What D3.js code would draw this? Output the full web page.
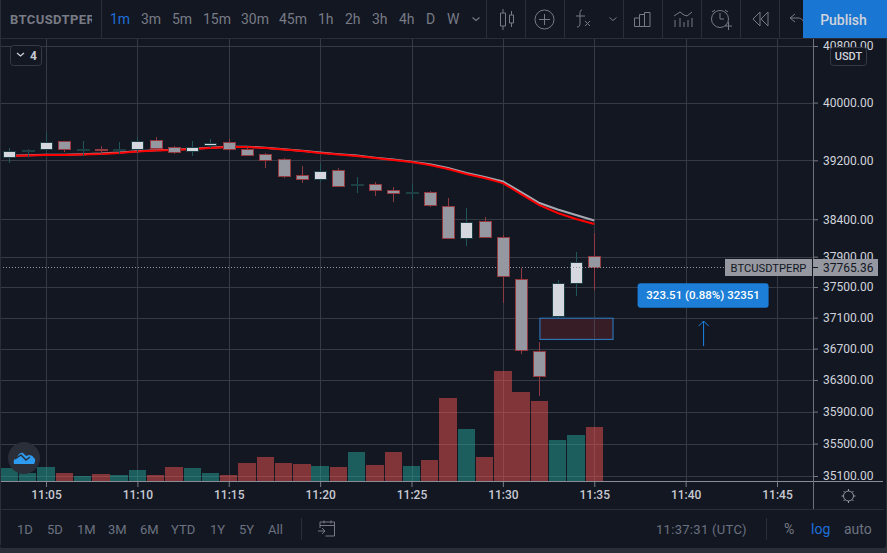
<!DOCTYPE html>
<html>
<head>
<meta charset="utf-8">
<script src="https://cdn.jsdelivr.net/npm/d3@7"></script>
<style>
  html, body { margin: 0; padding: 0; background: #2a2e39; overflow: hidden; }
  svg { display: block; font-family: Roboto, sans-serif; }
</style>
</head>
<body>
<div id="chart"></div>
<script>
var svgWidth = 887;
var svgHeight = 553;

// chart data
var times = ["11:03","11:04","11:05","11:06","11:07","11:08","11:09","11:10","11:11","11:12","11:13",
  "11:14","11:15","11:16","11:17","11:18","11:19","11:20","11:21","11:22","11:23","11:24","11:25",
  "11:26","11:27","11:28","11:29","11:30","11:31","11:32","11:33","11:34","11:35"];
var opens = [39254,39341,39355,39459,39352,39362,39348,39355,39480,39383,39327,39411,39452,39355,39286,
  39218,38998,38944,39067,38862,38875,38794,38760,38762,38582,38158,38381,38166,37609,36673,37130,37561,37913];
var highs = [39369,39355,39590,39466,39466,39396,39452,39521,39521,39396,39466,39493,39493,39396,39300,
  39231,39122,39149,39094,38971,38903,38835,38875,38780,38686,38551,38430,38188,37750,36785,37592,37962,38215];
var lows = [39163,39245,39327,39313,39259,39272,39286,39313,39327,39286,39259,39369,39327,39259,39094,
  38957,38889,38903,38848,38753,38713,38632,38672,38565,38135,38042,38148,37291,36631,36096,37095,37382,37460];
var closes = [39331,39348,39456,39348,39362,39355,39355,39466,39369,39320,39383,39438,39355,39276,39208,
  38989,38948,39057,38852,38875,38787,38760,38767,38587,38158,38367,38171,37654,36691,36358,37556,37833,37765];
var volumes = [130,80,140,80,50,70,60,110,60,140,130,80,60,180,240,180,170,150,140,290,160,290,150,210,
  830,520,240,1100,890,800,410,460,540];
var redLine = [39259,39265,39272,39272,39279,39286,39300,39320,39334,39341,39355,39369,39383,39383,39369,
  39348,39327,39300,39279,39259,39231,39204,39176,39135,39080,39012,38957,38889,38740,38591,38484,38403,38336];
var grayLine = [39262,39270,39276,39278,39284,39292,39306,39326,39340,39346,39360,39374,39388,39388,39374,
  39353,39332,39306,39285,39265,39237,39210,39182,39146,39094,39026,38971,38910,38767,38618,38531,38457,38383];

var priceTicks = [40800,40000,39200,38400,37900,37500,37100,36700,36300,35900,35500,35100];
var timeTicks = ["11:05","11:10","11:15","11:20","11:25","11:30","11:35","11:40","11:45"];
var intervals = ["1m","3m","5m","15m","30m","45m","1h","2h","3h","4h","D","W"];
var intervalX = [110,141,172,203,241,279,318,345,372,399,426,447];
var ranges = ["1D","5D","1M","3M","6M","YTD","1Y","5Y","All"];
var rangeX = [17,47,77,108,140,171,210,239,268];

var lastPrice = 37765.36;
var boxStart = "11:32", boxEnd = "11:36", boxTop = 37093, boxBottom = 36819;
var arrowTime = "11:40:59", arrowFrom = 36733, arrowTo = 37056;
var labelTop = 37550, labelBottom = 37230;

var parseTime = d3.utcParse("%H:%M");
var parseLong = d3.utcParse("%H:%M:%S");

var bg = "#131722", grid = "#363a45", axisCol = "#787b86", muted = "#6b7280";
var upBorder = "#1d3f43", downBorder = "#94393f", upFill = "#d6d8e0", downFill = "#9598a1";

var svg = d3.select("#chart").append("svg")
    .attr("width", svgWidth)
    .attr("height", svgHeight);

svg.append("rect").attr("width", svgWidth).attr("height", svgHeight).attr("fill", "#2a2e39");
svg.append("rect").attr("width", svgWidth - 1).attr("height", 548).attr("rx", 3).attr("fill", bg);

var xScale = d3.scaleUtc()
    .domain([parseTime("11:05"), parseTime("11:45")])
    .range([46, 777]);

var yScale = d3.scaleLog()
    .domain([35100, 40800])
    .range([476, 46]);

var volScale = d3.scaleLinear()
    .domain([0, 1100])
    .range([481, 371]);

// grid
var gridGroup = svg.append("g").attr("shape-rendering", "crispEdges").attr("stroke", grid);
gridGroup.selectAll(".h").data(priceTicks).enter().append("line")
    .attr("x1", 0).attr("x2", 813)
    .attr("y1", d => Math.round(yScale(d))).attr("y2", d => Math.round(yScale(d)));
gridGroup.selectAll(".v").data(timeTicks).enter().append("line")
    .attr("x1", d => Math.round(xScale(parseTime(d)))).attr("x2", d => Math.round(xScale(parseTime(d))))
    .attr("y1", 38).attr("y2", 481);

// volume
svg.append("g").selectAll("rect").data(volumes).enter().append("rect")
    .attr("x", (d, i) => xScale(parseTime(times[i])) - 8.7)
    .attr("width", 17.4)
    .attr("y", d => volScale(d))
    .attr("height", d => volScale(0) - volScale(d))
    .attr("fill", (d, i) => closes[i] >= opens[i] ? "rgba(38,166,154,.5)" : "rgba(239,83,80,.5)")
    .attr("shape-rendering", "crispEdges");

// moving averages
var lineGen = d3.line()
    .x((d, i) => xScale(parseTime(times[i])))
    .y(d => yScale(d));
svg.append("path").attr("d", lineGen(grayLine)).attr("fill", "none").attr("stroke", "#a6a9b2").attr("stroke-width", 2);
svg.append("path").attr("d", lineGen(redLine)).attr("fill", "none").attr("stroke", "#ff0000").attr("stroke-width", 2);

// candles
var candles = svg.append("g").selectAll("g").data(times).enter().append("g");
candles.append("line")
    .attr("x1", d => Math.round(xScale(parseTime(d))) + 0.5)
    .attr("x2", d => Math.round(xScale(parseTime(d))) + 0.5)
    .attr("y1", (d, i) => yScale(highs[i]))
    .attr("y2", (d, i) => yScale(lows[i]))
    .attr("stroke", (d, i) => closes[i] >= opens[i] ? "#20565a" : "#8e3a40");
candles.append("rect")
    .attr("x", d => Math.round(xScale(parseTime(d))) - 5.5)
    .attr("width", 12)
    .attr("y", (d, i) => Math.round(yScale(Math.max(opens[i], closes[i]))) + 0.5)
    .attr("height", (d, i) => Math.max(1, Math.round(yScale(Math.min(opens[i], closes[i])) - yScale(Math.max(opens[i], closes[i])))))
    .attr("fill", (d, i) => closes[i] >= opens[i] ? upFill : downFill)
    .attr("stroke", (d, i) => closes[i] >= opens[i] ? upBorder : downBorder)
    .attr("stroke-width", 1);

// rectangle drawing
svg.append("rect")
    .attr("x", xScale(parseTime(boxStart)) + 0.5)
    .attr("y", yScale(boxTop))
    .attr("width", xScale(parseTime(boxEnd)) - xScale(parseTime(boxStart)))
    .attr("height", yScale(boxBottom) - yScale(boxTop))
    .attr("fill", "#371e26")
    .attr("stroke", "#2f80cc");
// vertical gridline shows through the rectangle
svg.append("line")
    .attr("x1", Math.round(xScale(parseTime("11:35")))).attr("x2", Math.round(xScale(parseTime("11:35"))))
    .attr("y1", yScale(boxTop)).attr("y2", yScale(boxBottom))
    .attr("stroke", "#4a3e4c").attr("shape-rendering", "crispEdges");

// measure label and arrow
var arrowX = xScale(parseLong(arrowTime));
svg.append("rect")
    .attr("x", arrowX - 66).attr("width", 131)
    .attr("y", yScale(labelTop)).attr("height", yScale(labelBottom) - yScale(labelTop))
    .attr("rx", 3).attr("fill", "#1c7ed6");
svg.append("text")
    .attr("x", arrowX - 0.5).attr("y", (yScale(labelTop) + yScale(labelBottom)) / 2 + 4)
    .attr("text-anchor", "middle").attr("fill", "#ffffff")
    .attr("font-size", 11.5).attr("font-weight", 500)
    .text("323.51 (0.88%) 32351");
svg.append("line")
    .attr("x1", arrowX).attr("x2", arrowX)
    .attr("y1", yScale(arrowFrom)).attr("y2", yScale(arrowTo))
    .attr("stroke", "#1c85e8");
svg.append("path")
    .attr("d", `M${arrowX - 5},${yScale(arrowTo) + 5}L${arrowX},${yScale(arrowTo)}L${arrowX + 5},${yScale(arrowTo) + 5}`)
    .attr("fill", "none").attr("stroke", "#1c85e8");

// last price line
svg.append("line")
    .attr("x1", 0).attr("x2", 813)
    .attr("y1", Math.round(yScale(lastPrice)) + 0.5).attr("y2", Math.round(yScale(lastPrice)) + 0.5)
    .attr("stroke", "#9598a1").attr("stroke-dasharray", "1 2");

// axes
var rightAxis = d3.axisRight(yScale)
    .tickValues(priceTicks)
    .tickFormat(d3.format(".2f"))
    .tickSize(5)
    .tickPadding(5);
var yAxis = svg.append("g")
    .attr("transform", "translate(813,0)")
    .call(rightAxis);
yAxis.select(".domain").remove();
yAxis.selectAll("line").attr("stroke", axisCol);
yAxis.selectAll("text").attr("fill", "#d1d4dc").attr("font-size", 12).attr("font-family", "Roboto, sans-serif");

var bottomAxis = d3.axisBottom(xScale)
    .tickValues(timeTicks.map(parseTime))
    .tickFormat(d3.utcFormat("%H:%M"))
    .tickSize(6)
    .tickPadding(3);
var xAxis = svg.append("g")
    .attr("transform", "translate(0,481)")
    .call(bottomAxis);
xAxis.select(".domain").remove();
xAxis.selectAll("line").attr("stroke", axisCol);
xAxis.selectAll("text").attr("fill", "#c8cad2").attr("font-size", 12).attr("font-weight", 500)
    .attr("font-family", "Roboto, sans-serif");

var frame = svg.append("g").attr("shape-rendering", "crispEdges");
frame.append("line").attr("x1", 0).attr("x2", 883).attr("y1", 481).attr("y2", 481).attr("stroke", "#8a8d97");
frame.append("line").attr("x1", 813).attr("x2", 813).attr("y1", 38).attr("y2", 509).attr("stroke", "#6f727c");
frame.append("line").attr("x1", 0).attr("x2", 887).attr("y1", 38).attr("y2", 38).attr("stroke", "#2a2e39");
frame.append("line").attr("x1", 0).attr("x2", 884).attr("y1", 509).attr("y2", 509).attr("stroke", "#2a2e39");
frame.append("line").attr("x1", 0.5).attr("x2", 0.5).attr("y1", 0).attr("y2", 545).attr("stroke", "#2a2e39");

// last price tags
var tagY = Math.round(yScale(lastPrice));
svg.append("rect").attr("x", 725).attr("y", tagY - 8).attr("width", 87).attr("height", 17).attr("fill", "#9598a1");
svg.append("text").attr("x", 768.5).attr("y", tagY + 4.5).attr("text-anchor", "middle")
    .attr("font-size", 11.2).attr("fill", bg).text("BTCUSDTPERP");
svg.append("rect").attr("x", 813).attr("y", tagY - 8).attr("width", 65).attr("height", 17).attr("fill", "#9598a1");
svg.append("line").attr("x1", 813).attr("x2", 818).attr("y1", tagY + 0.5).attr("y2", tagY + 0.5).attr("stroke", bg);
svg.append("text").attr("x", 823).attr("y", tagY + 4.5)
    .attr("font-size", 12).attr("fill", bg).text(d3.format(".2f")(lastPrice));

// USDT badge
svg.append("rect").attr("x", 830.5).attr("y", 47.5).attr("width", 36).attr("height", 18).attr("rx", 3)
    .attr("fill", bg).attr("stroke", "#363a45");
svg.append("text").attr("x", 848.5).attr("y", 60).attr("text-anchor", "middle")
    .attr("font-size", 11).attr("font-weight", 500).attr("fill", "#d1d4dc").text("USDT");

// collapse badge
svg.append("rect").attr("x", 10.5).attr("y", 45.5).attr("width", 31).attr("height", 20).attr("rx", 3)
    .attr("fill", bg).attr("stroke", "#363a45");
svg.append("path").attr("d", "M17,53l3.5,3l3.5,-3").attr("fill", "none").attr("stroke", "#d1d4dc").attr("stroke-width", 1.2);
svg.append("text").attr("x", 30).attr("y", 60).attr("font-size", 12).attr("font-weight", 700)
    .attr("fill", "#c8cad2").text("4");

// logo
svg.append("circle").attr("cx", 24).attr("cy", 458).attr("r", 16).attr("fill", "#2a2e39");
svg.append("path")
    .attr("d", "M14,464c-1,-4 1,-6 3,-6c1,-3 3,-6 6,-5l3,3l3,-1c2,0 4,1 5,3c1,0 2,3 0,6z")
    .attr("fill", "#2d9cf0");
svg.append("path").attr("d", "M15,459l6,-4l5,5l4,-3").attr("fill", "none").attr("stroke", "#2a2e39").attr("stroke-width", 1.5);

// top toolbar
svg.append("clipPath").attr("id", "symClip").append("rect").attr("x", 0).attr("y", 0).attr("width", 92).attr("height", 38);
svg.append("text").attr("x", 10).attr("y", 24).attr("font-size", 13).attr("font-weight", 700)
    .attr("letter-spacing", 0.4).attr("fill", "#787b86").attr("clip-path", "url(#symClip)").text("BTCUSDTPERP");
svg.append("g").selectAll("text").data(intervals).enter().append("text")
    .attr("x", (d, i) => intervalX[i])
    .attr("y", 24)
    .attr("font-size", 14)
    .attr("fill", (d, i) => i === 0 ? "#1e6fd9" : "#787b86")
    .text(d => d);

var sepX = [101, 486, 525, 564, 623, 662, 701, 740, 779];
svg.append("g").attr("shape-rendering", "crispEdges").selectAll("line").data(sepX).enter().append("line")
    .attr("x1", d => d + 0.5).attr("x2", d => d + 0.5).attr("y1", 0).attr("y2", 38).attr("stroke", "#2a2e39");

var icons = svg.append("g").attr("fill", "none").attr("stroke", "#787b86").attr("stroke-width", 1);
icons.append("path").attr("d", "M472.5,17.5l3.5,3l3.5,-3").attr("stroke-width", 1.1);
icons.append("path").attr("d", "M500.5,13h5v13h-5zM503,9v4M503,26v4M509.5,15h4v8h-4zM511.5,11v4M511.5,23v4");
icons.append("circle").attr("cx", 544.5).attr("cy", 19.5).attr("r", 9.5);
icons.append("path").attr("d", "M539,19.5h11M544.5,14v11");
icons.append("path").attr("d", "M582,10c-2,0 -2,2 -2,4v9c0,3 -1,4 -3,4M576,16h9M585,21l5,5M590,21l-5,5");
icons.append("path").attr("d", "M609.5,17.5l3.5,3l3.5,-3");
icons.append("path").attr("d", "M634.5,18h5v8.5h-5zM639.5,14.5h5v12h-5zM644.5,12.5h5.5v14h-5.5z");
icons.append("path").attr("d", "M674,16l6,-4l4,3l3,1l5,-4M675,20v7M680,18v9M684,22v5M688,20v7M692,18v9");
icons.append("circle").attr("cx", 720).attr("cy", 19).attr("r", 8.5);
icons.append("path").attr("d", "M720,13v6h4M712,12l3,-2M725,10l3,2M725,26h7M728.5,22v8");
icons.append("path").attr("d", "M760,12l-7,7l7,7zM768,12l-7,7l7,7z");
icons.append("path").attr("d", "M795,14l-5,4l5,4M790,18h8c4,0 6,3 6,7");

// publish
svg.append("rect").attr("x", 803).attr("y", 0).attr("width", 84).attr("height", 38).attr("fill", "#1976d2");
svg.append("text").attr("x", 843.5).attr("y", 24.5).attr("text-anchor", "middle")
    .attr("font-size", 14).attr("font-weight", 500).attr("fill", "#d1d4dc").text("Publish");

// bottom toolbar
svg.append("g").selectAll("text").data(ranges).enter().append("text")
    .attr("x", (d, i) => rangeX[i])
    .attr("y", 534)
    .attr("font-size", 13)
    .attr("fill", muted)
    .text(d => d);
svg.append("line").attr("x1", 301.5).attr("x2", 301.5).attr("y1", 518).attr("y2", 540).attr("stroke", "#2a2e39");
svg.append("line").attr("x1", 766.5).attr("x2", 766.5).attr("y1", 518).attr("y2", 540).attr("stroke", "#2a2e39");
svg.append("path").attr("d", "M320,528v-6h14.5v14h-9M320,525.5h14.5M324,520.5v3M331,520.5v3M318,531h7M322,528l3,3l-3,3")
    .attr("fill", "none").attr("stroke", "#787b86");
svg.append("text").attr("x", 656).attr("y", 534).attr("font-size", 13).attr("letter-spacing", 0.3)
    .attr("fill", muted).text("11:37:31 (UTC)");
svg.append("text").attr("x", 784).attr("y", 534).attr("font-size", 14).attr("fill", "#787b86").text("%");
svg.append("text").attr("x", 811).attr("y", 534).attr("font-size", 14).attr("fill", "#1e6fd9").text("log");
svg.append("text").attr("x", 844).attr("y", 534).attr("font-size", 14).attr("fill", muted).text("auto");

// settings gear
svg.append("circle").attr("cx", 848.5).attr("cy", 496).attr("r", 5).attr("fill", "none").attr("stroke", "#9598a1");
svg.append("g").attr("stroke", "#9598a1").selectAll("line").data(d3.range(8)).enter().append("line")
    .attr("x1", d => 848.5 + 5 * Math.cos(d * Math.PI / 4))
    .attr("y1", d => 496 + 5 * Math.sin(d * Math.PI / 4))
    .attr("x2", d => 848.5 + 7 * Math.cos(d * Math.PI / 4))
    .attr("y2", d => 496 + 7 * Math.sin(d * Math.PI / 4));
</script>
</body>
</html>
